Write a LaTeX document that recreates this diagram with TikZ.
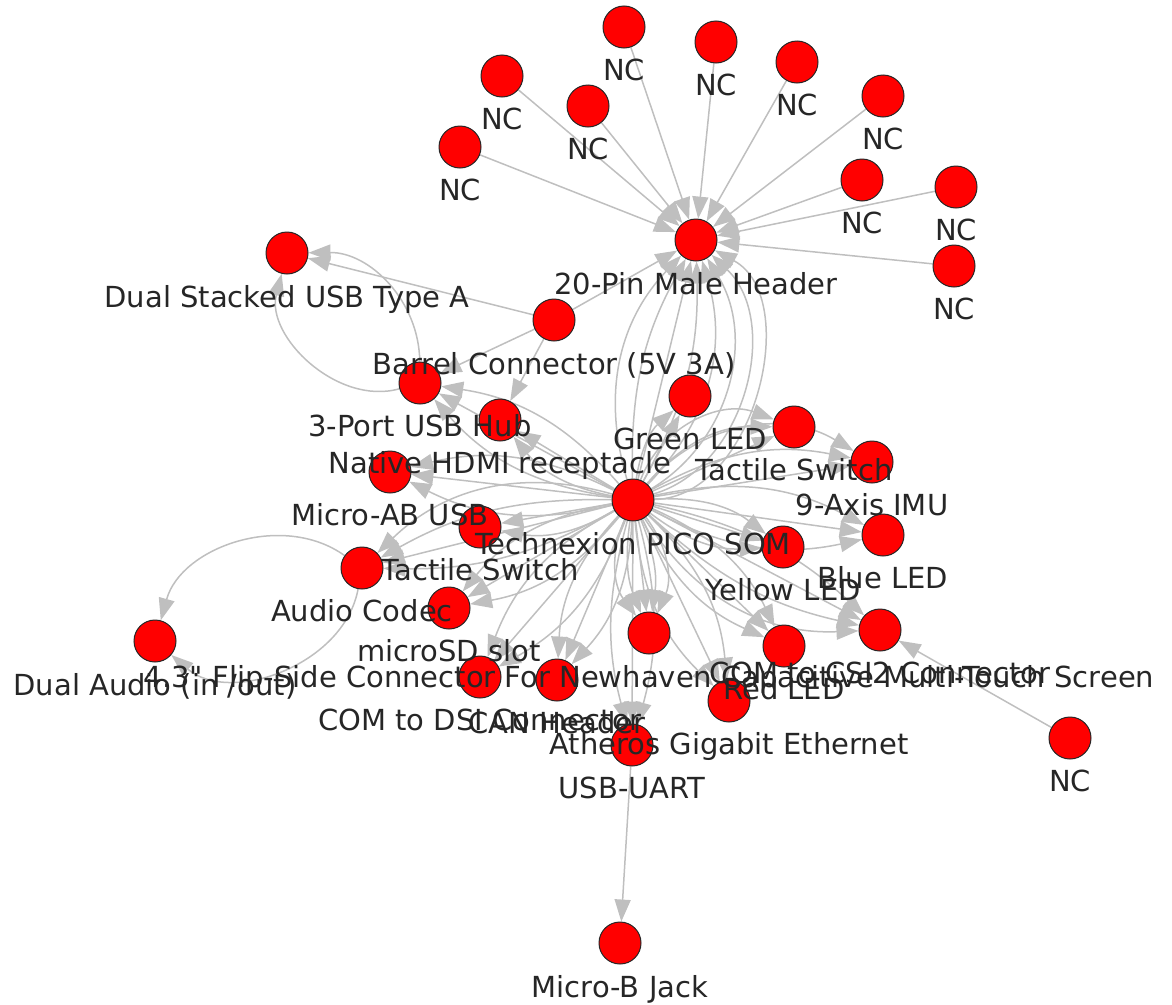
\documentclass[tikz,border=0pt]{standalone}
\usepackage{fontspec}
\setmainfont{DejaVu Sans}
\newfontfamily\qfont{DejaVu Sans}
\usetikzlibrary{arrows.meta,calc}
\pgfdeclarelayer{bg}
\pgfsetlayers{bg,main}
\tikzset{
  vtx/.style={circle, draw=black!85, fill=red, line width=1pt, minimum size=42pt, inner sep=0pt},
  lab/.style={anchor=base, font=\fontsize{29}{30}\selectfont, text=black!85, inner sep=0pt},
  edg/.style={draw=black!25, line width=1.5pt, -{Triangle[length=22pt,width=16pt]}},
}
\newcommand{\mmulti}[3]{\foreach \bb in {#3}{\draw[edg] (#1) to[bend left=\bb] (#2);}}
\begin{document}
\begin{tikzpicture}[x=1pt,y=-1pt]
\useasboundingbox (0,0) rectangle (1172,1004);
% vertices
\node[vtx] (nc1) at (624,27) {};
\node[vtx] (nc2) at (716,42) {};
\node[vtx] (nc3) at (797,62) {};
\node[vtx] (nc4) at (502,76) {};
\node[vtx] (nc5) at (588,106) {};
\node[vtx] (nc6) at (883,96) {};
\node[vtx] (nc7) at (460,147) {};
\node[vtx] (nc8) at (862,180) {};
\node[vtx] (nc9) at (956,187) {};
\node[vtx] (nc10) at (954,266) {};
\node[vtx] (nc11) at (1070,738) {};
\node[vtx] (h20) at (696,240) {};
\node[vtx] (dusb) at (287,253) {};
\node[vtx] (barrel) at (554,320) {};
\node[vtx] (hub) at (420,383) {};
\node[vtx] (green) at (690,396) {};
\node[vtx] (hdmi) at (500,420) {};
\node[vtx] (ts1) at (794,427) {};
\node[vtx] (imu) at (872,462) {};
\node[vtx] (som) at (633,500) {};
\node[vtx] (microab) at (390,472) {};
\node[vtx] (ts2) at (480,527) {};
\node[vtx] (yellow) at (783,547) {};
\node[vtx] (blue) at (883,535) {};
\node[vtx] (codec) at (362,568) {};
\node[vtx] (sd) at (449,608) {};
\node[vtx] (daudio) at (155,641) {};
\node[vtx] (flip) at (649,633) {};
\node[vtx] (csi) at (880,630) {};
\node[vtx] (red) at (784,646) {};
\node[vtx] (dsi) at (480,677) {};
\node[vtx] (can) at (557,680) {};
\node[vtx] (eth) at (729,701) {};
\node[vtx] (uart) at (632,745) {};
\node[vtx] (mbj) at (620,943) {};
% edges
\begin{pgfonlayer}{bg}
\foreach \i in {1,...,10} \draw[edg] (nc\i) -- (h20);
\draw[edg] (nc11) -- (csi);
\draw[edg] (uart) -- (mbj);
\draw[edg] (barrel) -- (dusb);
\draw[edg] (barrel) -- (h20);
\draw[edg] (barrel) -- (hub);
\draw[edg] (barrel) -- (hdmi);
\mmulti{hub}{dusb}{60,-45}
\mmulti{codec}{daudio}{-55,60}
\mmulti{som}{h20}{30,15,0,-15,-30,-45,-60,-75}
\mmulti{som}{green}{20,0}
\mmulti{som}{ts1}{0,25,45}
\mmulti{som}{imu}{0,20,40}
\mmulti{som}{blue}{-20,0,20}
\mmulti{som}{yellow}{-20,0,20}
\mmulti{som}{csi}{-30,-15,0,15}
\mmulti{som}{red}{-20,0,20}
\mmulti{som}{eth}{-20,0,20}
\mmulti{som}{uart}{-15,0,15}
\mmulti{som}{can}{-20,0,20}
\mmulti{som}{flip}{-30,-15,0,15,30}
\mmulti{som}{dsi}{-20,0,20}
\mmulti{som}{sd}{-20,0,20}
\mmulti{som}{codec}{-30,-15,0,15}
\mmulti{som}{ts2}{0,20}
\mmulti{som}{microab}{-20,0,20}
\mmulti{som}{hdmi}{0,20}
\mmulti{som}{hub}{-20,0,20}
\end{pgfonlayer}
% labels
\foreach \i in {1,...,11} \node[lab] (nc\i-l) at ($(nc\i)+(0,53)$) {NC};
\node[lab] (h20-l) at ($(h20)+(0,54)$) {20-Pin Male Header};
\node[lab] (dusb-l) at ($(dusb)+(0,54)$) {Dual Stacked USB Type A};
\node[lab] (barrel-l) at ($(barrel)+(0,54)$) {Barrel Connector (5V 3A)};
\node[lab] (hub-l) at ($(hub)+(0,53)$) {3-Port USB Hub};
\node[lab] (green-l) at ($(green)+(0,53)$) {Green LED};
\node[lab] (hdmi-l) at ($(hdmi)+(0,53)$) {Native HDMI receptacle};
\node[lab] (ts1-l) at ($(ts1)+(0,53)$) {Tactile Switch};
\node[lab] (imu-l) at ($(imu)+(0,53)$) {9-Axis IMU};
\node[lab] (som-l) at ($(som)+(0,54)$) {Technexion PICO SOM};
\node[lab] (microab-l) at ($(microab)+(0,53)$) {Micro-AB USB};
\node[lab] (ts2-l) at ($(ts2)+(0,53)$) {Tactile Switch};
\node[lab] (yellow-l) at ($(yellow)+(0,53)$) {Yellow LED};
\node[lab] (blue-l) at ($(blue)+(0,53)$) {Blue LED};
\node[lab] (codec-l) at ($(codec)+(0,53)$) {Audio Codec};
\node[lab] (sd-l) at ($(sd)+(0,53)$) {microSD slot};
\node[lab] (daudio-l) at ($(daudio)+(0,54)$) {Dual Audio (in /out)};
\node[lab] (flip-l) at ($(flip)+(0,54)$) {4.3{\qfont"} Flip-Side Connector For Newhaven Capacitive Multi-Touch Screen};
\node[lab] (csi-l) at ($(csi)+(0,53)$) {COM to CSI2 Connector};
\node[lab] (red-l) at ($(red)+(0,53)$) {Red LED};
\node[lab] (dsi-l) at ($(dsi)+(0,53)$) {COM to DSI Connector};
\node[lab] (can-l) at ($(can)+(0,53)$) {CAN Header};
\node[lab] (eth-l) at ($(eth)+(0,53)$) {Atheros Gigabit Ethernet};
\node[lab] (uart-l) at ($(uart)+(0,53)$) {USB-UART};
\node[lab] (mbj-l) at ($(mbj)+(0,54)$) {Micro-B Jack};
\end{tikzpicture}
\end{document}
